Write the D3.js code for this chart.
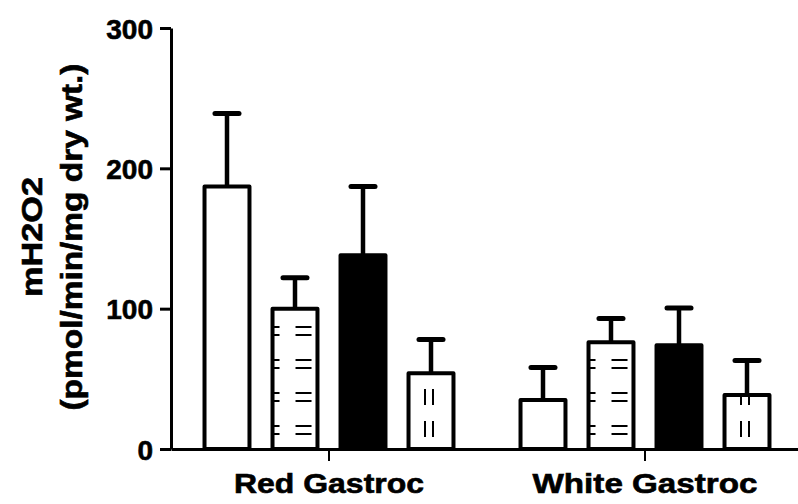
<!DOCTYPE html>
<html>
<head>
<meta charset="utf-8">
<script src="https://cdn.jsdelivr.net/npm/d3@7"></script>
<style>
  body { margin: 0; background: #fff; }
  text { font-family: "Liberation Sans", Arial, sans-serif; font-weight: bold; fill: #000; stroke: #000; stroke-width: 0.6px; }
</style>
</head>
<body>
<div id="my_chart"></div>
<script>
    // groups on the x axis and the four (unlabelled) treatment series
    var groups = ["Red Gastroc", "White Gastroc"];
    var series = ["s1", "s2", "s3", "s4"];

    // means and error (SEM)
    var redMeans = [187, 100, 138, 54];
    var redSem = [52, 22, 49, 24];
    var whiteMeans = [35, 76, 74, 38.5];
    var whiteSem = [23, 17, 26.5, 24.5];

    var yTicks = [0, 100, 200, 300];

    // fill style for each series
    var seriesFill = ["white", "hdash", "black", "vdash"];

    var width = 798, height = 504;

    var svg = d3.select("#my_chart")
        .append("svg")
        .attr("width", width)
        .attr("height", height);

    // scales
    const y = d3.scaleLinear()
      .domain([0, 300])
      .range([449, 28]);

    const x0 = d3.scaleBand()
      .domain(groups)
      .range([171, 803])
      .padding(0);

    const x1 = d3.scaleBand()
      .domain(series)
      .range([0, x0.bandwidth()])
      .paddingInner(0.28)
      .paddingOuter(0.4635);

    // build rows from the arrays
    var rows = [];
    groups.forEach(function(g, gi) {
      var means = gi == 0 ? redMeans : whiteMeans;
      var sems = gi == 0 ? redSem : whiteSem;
      series.forEach(function(s, si) {
        rows.push({ group: g, series: s, idx: si, mean: means[si], sem: sems[si], id: "p" + gi + "_" + si });
      });
    });

    var defs = svg.append("defs");
    var base = y(0);

    // patterns, placed relative to each bar
    rows.forEach(function(d) {
      var left = x0(d.group) + x1(d.series);
      var bw = x1.bandwidth();
      if (seriesFill[d.idx] == "hdash") {
        var p = defs.append("pattern")
          .attr("id", d.id)
          .attr("patternUnits", "userSpaceOnUse")
          .attr("x", left + 4 + 21)
          .attr("y", base - 24)
          .attr("width", 32)
          .attr("height", 33);
        p.append("rect").attr("width", 32).attr("height", 33).attr("fill", "white");
        p.append("line").attr("x1", 0).attr("x2", 16).attr("y1", 1).attr("y2", 1)
          .attr("stroke", "black").attr("stroke-width", 2);
        p.append("line").attr("x1", 0).attr("x2", 16).attr("y1", 9).attr("y2", 9)
          .attr("stroke", "black").attr("stroke-width", 2);
      }
      if (seriesFill[d.idx] == "vdash") {
        var cx = left + bw / 2;
        var p2 = defs.append("pattern")
          .attr("id", d.id)
          .attr("patternUnits", "userSpaceOnUse")
          .attr("x", cx - 7)
          .attr("y", base - 12)
          .attr("width", 100)
          .attr("height", 32);
        p2.append("rect").attr("width", 100).attr("height", 32).attr("fill", "white");
        p2.append("line").attr("x1", 1).attr("x2", 1).attr("y1", 16).attr("y2", 32)
          .attr("stroke", "black").attr("stroke-width", 2);
        p2.append("line").attr("x1", 9).attr("x2", 9).attr("y1", 16).attr("y2", 32)
          .attr("stroke", "black").attr("stroke-width", 2);
      }
    });

    // error bars (upper only)
    var err = svg.append("g");
    err.selectAll("line.stem")
      .data(rows)
      .enter()
      .append("line")
        .attr("class", "stem")
        .attr("x1", function(d) { return x0(d.group) + x1(d.series) + x1.bandwidth() / 2; })
        .attr("x2", function(d) { return x0(d.group) + x1(d.series) + x1.bandwidth() / 2; })
        .attr("y1", function(d) { return y(d.mean); })
        .attr("y2", function(d) { return y(d.mean + d.sem); })
        .attr("stroke", "black")
        .attr("stroke-width", 4.5);
    err.selectAll("line.cap")
      .data(rows)
      .enter()
      .append("line")
        .attr("class", "cap")
        .attr("x1", function(d) { return x0(d.group) + x1(d.series) + x1.bandwidth() / 2 - 12; })
        .attr("x2", function(d) { return x0(d.group) + x1(d.series) + x1.bandwidth() / 2 + 12; })
        .attr("y1", function(d) { return y(d.mean + d.sem); })
        .attr("y2", function(d) { return y(d.mean + d.sem); })
        .attr("stroke", "black")
        .attr("stroke-width", 5)
        .attr("stroke-linecap", "round");

    // the bars
    svg.append("g")
      .selectAll("rect")
      .data(rows)
      .enter()
      .append("rect")
        .attr("x", function(d) { return x0(d.group) + x1(d.series) + 2; })
        .attr("y", function(d) { return y(d.mean); })
        .attr("width", x1.bandwidth() - 4)
        .attr("height", function(d) { return base - y(d.mean); })
        .attr("fill", function(d) {
          var f = seriesFill[d.idx];
          if (f == "white" || f == "black") return f;
          return "url(#" + d.id + ")";
        })
        .attr("stroke", "black")
        .attr("stroke-width", 4)
        .attr("stroke-linejoin", "round");

    // y axis
    var yAxis = svg.append("g")
      .attr("transform", "translate(171,0)")
      .call(d3.axisLeft(y).tickValues(yTicks).tickSize(11).tickSizeOuter(0).tickPadding(7));
    yAxis.select(".domain").attr("stroke-width", 3);
    yAxis.selectAll(".tick line").attr("stroke-width", 3);
    yAxis.selectAll(".tick text")
      .attr("font-size", 28)
      .attr("font-family", "'Liberation Sans', Arial, sans-serif")
      .attr("font-weight", "bold")
      .attr("dy", "0.36em");

    // x axis
    var xAxis = svg.append("g")
      .attr("transform", "translate(0," + base + ")")
      .call(d3.axisBottom(x0).tickSize(12).tickSizeOuter(0));
    xAxis.select(".domain").attr("stroke-width", 3);
    xAxis.selectAll(".tick line").attr("stroke-width", 2);
    var xLabelLen = [190, 225];
    xAxis.selectAll(".tick text")
      .attr("font-size", 27)
      .attr("font-family", "'Liberation Sans', Arial, sans-serif")
      .attr("font-weight", "bold")
      .attr("y", 44)
      .attr("dy", 0)
      .attr("textLength", function(d, i) { return xLabelLen[i]; })
      .attr("lengthAdjust", "spacingAndGlyphs");

    // y axis title, two lines
    svg.append("text")
      .attr("transform", "translate(42,237) rotate(-90)")
      .attr("text-anchor", "middle")
      .attr("font-size", 29)
      .attr("textLength", 120)
      .attr("lengthAdjust", "spacingAndGlyphs")
      .text("mH2O2");
    svg.append("text")
      .attr("transform", "translate(82,237) rotate(-90)")
      .attr("text-anchor", "middle")
      .attr("font-size", 29)
      .attr("textLength", 347)
      .attr("lengthAdjust", "spacingAndGlyphs")
      .text("(pmol/min/mg dry wt.)");
</script>
</body>
</html>
